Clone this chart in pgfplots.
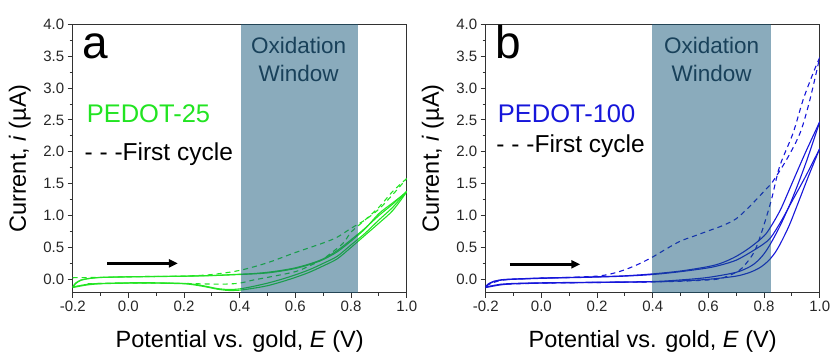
\documentclass[border=0pt]{standalone}
\usepackage{fontspec}
\setmainfont{Liberation Sans}
\usepackage{pgfplots}
\pgfplotsset{compat=1.18}
\usetikzlibrary{arrows.meta}
\definecolor{pgreen}{RGB}{34,228,34}
\definecolor{pblue}{RGB}{22,22,218}
\definecolor{winc}{RGB}{21,87,121}
\definecolor{wintext}{RGB}{25,65,90}
\definecolor{axc}{RGB}{50,50,50}
\pgfplotsset{
 cvstyle/.style={
  scale only axis, width=334pt, height=268.4pt,
  xmin=-0.2, xmax=1.0, ymin=-0.21, ymax=4.0,
  xtick={-0.2,0,0.2,0.4,0.6,0.8,1.0},
  ytick={0,0.5,1,1.5,2,2.5,3,3.5,4},
  minor x tick num=1, minor y tick num=1,
  tick align=outside, xtick pos=bottom, ytick pos=left,
  major tick length=5pt, minor tick length=3pt,
  axis line style={axc, line width=1pt},
  every tick/.style={axc, line width=0.9pt},
  /pgf/number format/assume math mode=true,
  ticklabel style={font=\fontsize{15}{17}\selectfont, text=black!85},
  xticklabel style={/pgf/number format/.cd, fixed, fixed zerofill, precision=1},
  yticklabel style={/pgf/number format/.cd, fixed, fixed zerofill, precision=1},
  xlabel={Potential vs. gold, \textit{E} (V)},
  ylabel={Current, \textit{i} (µA)},
  label style={font=\fontsize{23.5}{26}\selectfont},
  xlabel style={at={(axis description cs:0.5,-0.205)}, anchor=base},
  ylabel style={at={(axis description cs:-0.14,0.5)}, anchor=base},
  solidcv/.style={line width=1.1pt, smooth, tension=0.5, no markers},
  dashcv/.style={line width=1.1pt, smooth, tension=0.5, no markers, dash pattern=on 5pt off 4pt},
 }
}
\begin{document}
\begin{tikzpicture}
\useasboundingbox (0,0) rectangle (833pt,352pt);
% ---------------- panel a ----------------
\begin{axis}[cvstyle, at={(72.7pt,59.3pt)}, anchor=south west]
% solid cycles
\addplot[pgreen, solidcv] coordinates {(-0.2,-0.12) (-0.19,-0.06) (-0.17,-0.01) (-0.14,0.015) (-0.1,0.03) (0,0.04) (0.1,0.045) (0.2,0.05) (0.3,0.06) (0.4,0.08) (0.45,0.09) (0.5,0.11) (0.55,0.14) (0.6,0.18) (0.65,0.24) (0.7,0.32) (0.75,0.45) (0.8,0.62) (0.85,0.8) (0.9,1.0) (0.95,1.18) (1.0,1.38)};
\addplot[pgreen, solidcv] coordinates {(1.0,1.38) (0.95,1.13) (0.9,0.93) (0.85,0.72) (0.8,0.54) (0.75,0.36) (0.7,0.25) (0.65,0.15) (0.6,0.07) (0.55,0.0) (0.5,-0.06) (0.45,-0.11) (0.4,-0.15) (0.36,-0.16) (0.32,-0.145) (0.28,-0.11) (0.24,-0.08) (0.2,-0.065) (0.1,-0.055) (0,-0.055) (-0.1,-0.065) (-0.15,-0.08) (-0.2,-0.12)};
\addplot[pgreen, solidcv] coordinates {(-0.2,-0.13) (-0.19,-0.07) (-0.17,-0.015) (-0.14,0.012) (-0.1,0.028) (0,0.038) (0.1,0.043) (0.2,0.048) (0.3,0.058) (0.4,0.075) (0.45,0.085) (0.5,0.1) (0.55,0.13) (0.6,0.17) (0.65,0.23) (0.7,0.31) (0.75,0.43) (0.8,0.6) (0.85,0.79) (0.9,1.03) (0.95,1.2) (1.0,1.37)};
\addplot[pgreen, solidcv] coordinates {(1.0,1.37) (0.95,1.08) (0.9,0.88) (0.85,0.69) (0.8,0.5) (0.75,0.32) (0.7,0.21) (0.65,0.11) (0.6,0.03) (0.55,-0.04) (0.5,-0.1) (0.45,-0.14) (0.4,-0.17) (0.36,-0.175) (0.32,-0.155) (0.28,-0.12) (0.24,-0.09) (0.2,-0.07) (0.1,-0.06) (0,-0.06) (-0.1,-0.07) (-0.15,-0.09) (-0.2,-0.13)};
% first cycle (dashed)
\addplot[pgreen, dashcv] coordinates {(-0.2,0.025) (-0.1,0.03) (0,0.04) (0.1,0.045) (0.2,0.05) (0.3,0.075) (0.4,0.14) (0.5,0.26) (0.6,0.42) (0.7,0.57) (0.75,0.66) (0.8,0.8) (0.85,0.93) (0.9,1.1) (0.95,1.33) (1.0,1.58)};
\addplot[pgreen, dashcv] coordinates {(1.0,1.58) (0.95,1.38) (0.9,1.13) (0.85,0.93) (0.8,0.74) (0.77,0.56) (0.7,0.32) (0.65,0.21) (0.6,0.12) (0.5,0.03) (0.45,-0.01) (0.4,-0.06) (0.35,-0.075) (0.3,-0.075) (0.2,-0.065) (0.1,-0.06) (0,-0.06) (-0.1,-0.065) (-0.15,-0.07)};
% oxidation window
\fill[winc, fill opacity=0.5] (axis cs:0.405,-0.21) rectangle (axis cs:0.826,4.0);
\node[font=\fontsize{22.5}{26}\selectfont, text=wintext, anchor=base, inner sep=0] at (axis cs:0.612,3.545) {Oxidation};
\node[font=\fontsize{22.5}{26}\selectfont, text=wintext, anchor=base, inner sep=0] at (axis cs:0.612,3.11) {Window};
\node[font=\fontsize{46}{46}\selectfont, anchor=base west, inner sep=0] at (axis cs:-0.167,3.47) {a};
\node[font=\fontsize{25.5}{28}\selectfont, text=pgreen, anchor=base west, inner sep=0] at (axis cs:-0.15,2.456) {PEDOT-25};
\node[font=\fontsize{24.5}{28}\selectfont, anchor=base west, inner sep=0] at (axis cs:-0.158,1.86) {- - -First cycle};
\draw[-{Triangle[length=9pt,width=8pt]}, line width=2.4pt] (axis cs:-0.075,0.25) -- (axis cs:0.178,0.25);
\end{axis}
% ---------------- panel b ----------------
\begin{axis}[cvstyle, at={(485.7pt,59.3pt)}, anchor=south west]
\addplot[pblue, solidcv] coordinates {(-0.2,-0.12) (-0.19,-0.07) (-0.17,-0.03) (-0.14,-0.005) (-0.1,0.005) (0,0.02) (0.1,0.03) (0.2,0.04) (0.3,0.055) (0.4,0.085) (0.5,0.13) (0.6,0.2) (0.65,0.26) (0.7,0.36) (0.75,0.5) (0.8,0.68) (0.825,0.83) (0.86,1.1) (0.9,1.5) (0.95,2.0) (1.0,2.47)};
\addplot[pblue, solidcv] coordinates {(1.0,2.47) (0.95,1.82) (0.9,1.25) (0.86,0.86) (0.825,0.57) (0.8,0.4) (0.775,0.28) (0.75,0.2) (0.7,0.11) (0.6,0.03) (0.5,-0.01) (0.4,-0.035) (0.2,-0.045) (0,-0.055) (-0.1,-0.065) (-0.15,-0.08) (-0.2,-0.12)};
\addplot[pblue, solidcv] coordinates {(-0.2,-0.13) (-0.19,-0.08) (-0.17,-0.035) (-0.14,-0.01) (-0.1,0.0) (0,0.015) (0.1,0.025) (0.2,0.035) (0.3,0.05) (0.4,0.075) (0.5,0.12) (0.6,0.18) (0.65,0.23) (0.7,0.3) (0.75,0.42) (0.8,0.56) (0.825,0.66) (0.86,0.9) (0.9,1.22) (0.95,1.62) (1.0,2.05)};
\addplot[pblue, solidcv] coordinates {(1.0,2.05) (0.96,1.62) (0.92,1.17) (0.89,0.84) (0.86,0.57) (0.84,0.42) (0.82,0.31) (0.8,0.23) (0.78,0.17) (0.75,0.11) (0.7,0.05) (0.6,0.0) (0.5,-0.025) (0.4,-0.04) (0.2,-0.05) (0,-0.06) (-0.1,-0.07) (-0.15,-0.09) (-0.2,-0.13)};
\addplot[pblue, dashcv] coordinates {(-0.2,-0.1) (-0.15,-0.02) (-0.1,0.0) (0,0.02) (0.1,0.03) (0.2,0.05) (0.25,0.085) (0.3,0.15) (0.35,0.24) (0.4,0.35) (0.45,0.48) (0.5,0.6) (0.55,0.68) (0.6,0.76) (0.65,0.84) (0.7,0.95) (0.75,1.15) (0.8,1.38) (0.826,1.5) (0.88,1.87) (0.93,2.3) (0.965,2.82) (1.0,3.48)};
\addplot[pblue, dashcv] coordinates {(1.0,3.48) (0.976,3.23) (0.94,2.81) (0.904,2.29) (0.856,1.77) (0.826,1.24) (0.79,0.72) (0.762,0.41) (0.714,0.15) (0.65,0.02) (0.6,-0.01) (0.5,-0.03) (0.4,-0.04) (0.2,-0.05) (0,-0.06) (-0.15,-0.08)};
\fill[winc, fill opacity=0.5] (axis cs:0.398,-0.21) rectangle (axis cs:0.824,4.0);
\node[font=\fontsize{22.5}{26}\selectfont, text=wintext, anchor=base, inner sep=0] at (axis cs:0.612,3.545) {Oxidation};
\node[font=\fontsize{22.5}{26}\selectfont, text=wintext, anchor=base, inner sep=0] at (axis cs:0.612,3.11) {Window};
\node[font=\fontsize{46}{46}\selectfont, anchor=base west, inner sep=0] at (axis cs:-0.167,3.47) {b};
\node[font=\fontsize{25.5}{28}\selectfont, text=pblue, anchor=base west, inner sep=0] at (axis cs:-0.157,2.456) {PEDOT-100};
\node[font=\fontsize{24.5}{28}\selectfont, anchor=base west, inner sep=0] at (axis cs:-0.162,1.99) {- - -First cycle};
\draw[-{Triangle[length=9pt,width=8pt]}, line width=2.4pt] (axis cs:-0.114,0.235) -- (axis cs:0.14,0.235);
\end{axis}
\end{tikzpicture}
\end{document}
